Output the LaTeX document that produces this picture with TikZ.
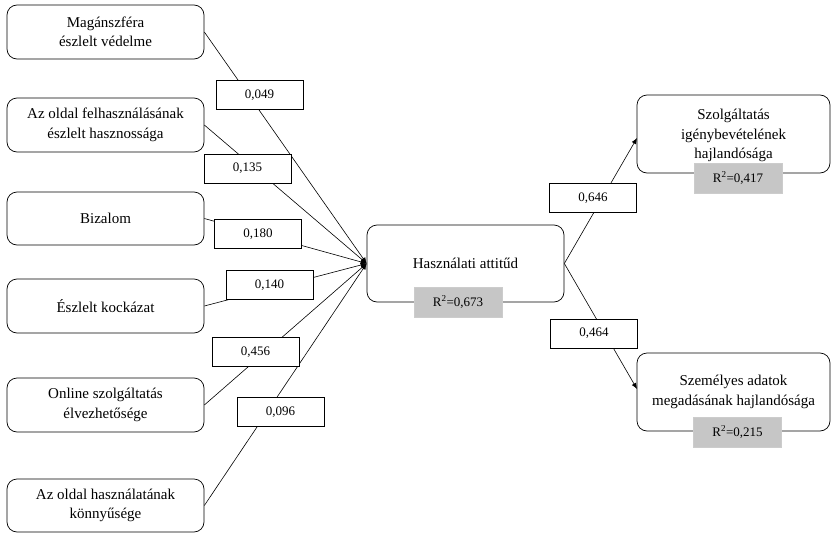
\documentclass[tikz,border=0pt]{standalone}
\usepackage{fontspec}
\setmainfont{Liberation Serif}
\usetikzlibrary{arrows.meta}
\begin{document}
\begin{tikzpicture}[x=1pt,y=-1pt,
  box/.style={draw, rounded corners=10pt, line width=0.7pt, fill=white, align=center, inner sep=0pt,
    font=\fontsize{15}{19.5}\selectfont},
  lbl/.style={draw, line width=0.7pt, fill=white, minimum width=87pt, minimum height=29pt, inner sep=0pt,
    font=\fontsize{13}{15}\selectfont},
  rsq/.style={draw=gray!40, fill=gray!45, minimum width=88pt, minimum height=30pt, inner sep=0pt,
    font=\fontsize{13}{15}\selectfont},
  arr/.style={line width=0.6pt, -{Latex[length=6pt,width=5pt]}}]
\useasboundingbox (0,0) rectangle (831,533);
% left boxes
\node[box, minimum width=197pt, minimum height=54pt] (b1) at (105.5,32) {Magánszféra\\észlelt védelme};
\node[box, minimum width=197pt, minimum height=54pt] (b2) at (105.5,125) {Az oldal felhasználásának\\észlelt hasznossága};
\node[box, minimum width=197pt, minimum height=53pt] (b3) at (105.5,218.5) {Bizalom};
\node[box, minimum width=197pt, minimum height=54pt] (b4) at (105.5,306) {Észlelt kockázat};
\node[box, minimum width=197pt, minimum height=54pt] (b5) at (105.5,405) {Online szolgáltatás\\élvezhetősége};
\node[box, minimum width=197pt, minimum height=53pt] (b6) at (105.5,505.5) {Az oldal használatának\\könnyűsége};
% central and right boxes
\node[box, minimum width=197pt, minimum height=77pt] (c) at (465.5,263.5) {Használati attitűd};
\node[box, minimum width=193pt, minimum height=78pt, text depth=-6pt] (t) at (733.5,134) {Szolgáltatás\\igénybevételének\\hajlandósága};
\node[box, minimum width=193pt, minimum height=78pt] (u) at (733.5,392) {Személyes adatok\\megadásának hajlandósága};
\coordinate (cin) at (c.west);
\coordinate (tin) at (637,138);
\coordinate (uin) at (637,389);
% connectors
\foreach \n in {b1,b2,b3,b4,b5,b6} {\draw[arr] (\n.east) -- (cin);}
\draw[arr] (c.east) -- (tin);
\draw[arr] (c.east) -- (uin);
% path labels
\node[lbl] (l1) at (259.5,95) {0,049};
\node[lbl] (l2) at (247.5,168.5) {0,135};
\node[lbl] (l3) at (258,234) {0,180};
\node[lbl] (l4) at (269.5,285) {0,140};
\node[lbl] (l5) at (255.5,352) {0,456};
\node[lbl] (l6) at (280.5,412) {0,096};
\node[lbl] (l7) at (593,198) {0,646};
\node[lbl] (l8) at (594,333.5) {0,464};
% R squared
\node[rsq] (r1) at (458,302) {R\textsuperscript{2}=0,673};
\node[rsq] (r2) at (738,178) {R\textsuperscript{2}=0,417};
\node[rsq] (r3) at (737.5,432) {R\textsuperscript{2}=0,215};
\end{tikzpicture}
\end{document}
